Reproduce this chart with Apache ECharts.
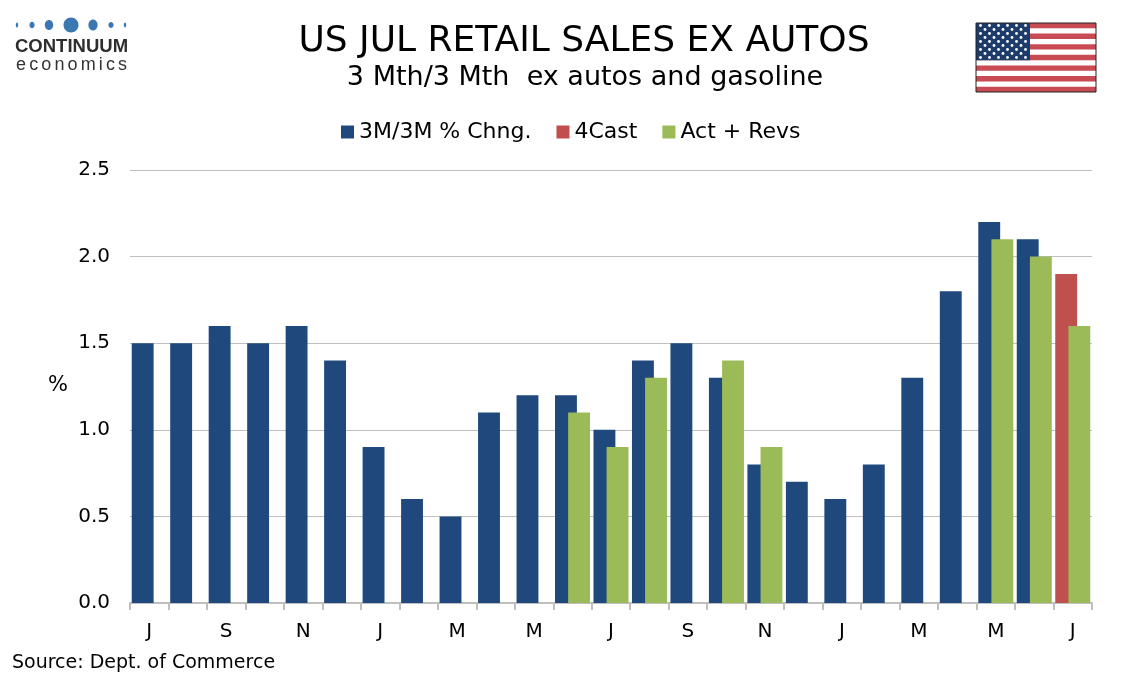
<!DOCTYPE html>
<html>
<head>
<meta charset="utf-8">
<script src="https://cdn.jsdelivr.net/npm/echarts@6/dist/echarts.min.js"></script>
<style>
  html, body { margin: 0; padding: 0; background: #fff; }
  #chart { width: 1134px; height: 680px; }
</style>
</head>
<body>
<div id="chart"></div>
<script>
// months Jul .. Jul (25 months)
var months = ['J', 'A', 'S', 'O', 'N', 'D', 'J', 'F', 'M', 'A', 'M', 'J',
              'J', 'A', 'S', 'O', 'N', 'D', 'J', 'F', 'M', 'A', 'M', 'J', 'J'];
var chng = [1.5, 1.5, 1.6, 1.5, 1.6, 1.4, 0.9, 0.6, 0.5, 1.1, 1.2, 1.2,
            1.0, 1.4, 1.5, 1.3, 0.8, 0.7, 0.6, 0.8, 1.3, 1.8, 2.2, 2.1, '-'];
var forecast = ['-', '-', '-', '-', '-', '-', '-', '-', '-', '-', '-', '-',
                '-', '-', '-', '-', '-', '-', '-', '-', '-', '-', '-', '-', 1.9];
var actRevs = ['-', '-', '-', '-', '-', '-', '-', '-', '-', '-', '-', 1.1,
               0.9, 1.3, '-', 1.4, 0.9, '-', '-', '-', '-', '-', 2.1, 2.0, 1.6];
var seriesNames = ['3M/3M % Chng.', '4Cast', 'Act + Revs'];
var yTicks = [0, 0.5, 1.0, 1.5, 2.0, 2.5];

(function () {
  var font = 'DejaVu Sans, Verdana, sans-serif';
  var blue = '#1F497D', red = '#C0504D', green = '#9BBB59', grey = '#bfbfbf';

  // logo: dots + wordmark
  var logo = [];
  var dots = [[17, 1.2, 2.5], [32, 2.6, 3.2], [49, 4.2, 5], [71, 7.5, 7.5], [93, 4.6, 5.5], [111, 2.6, 3], [125, 1.2, 2.5]];
  dots.forEach(function (d) {
    logo.push({ type: 'ellipse', shape: { cx: d[0], cy: 25, rx: d[1], ry: d[2] }, style: { fill: '#3b78b1' } });
  });
  logo.push({ type: 'text', x: 15, y: 47, style: { text: 'CONTINUUM', font: 'bold 18.5px Liberation Sans, Arial, sans-serif', fill: '#2e2e2e', verticalAlign: 'middle' } });
  // spaced-out "economics"
  var ecoFont = '18px Liberation Sans, Arial, sans-serif';
  var ctx = document.createElement('canvas').getContext('2d');
  ctx.font = ecoFont;
  var word = 'economics';
  var total = ctx.measureText(word).width;
  var spacing = (111 - total) / (word.length - 1);
  var cx = 16;
  for (var k = 0; k < word.length; k++) {
    logo.push({ type: 'text', x: cx, y: 65, style: { text: word[k], font: ecoFont, fill: '#333', verticalAlign: 'middle' } });
    cx += ctx.measureText(word[k]).width + spacing;
  }

  // flag
  var fx = 976, fy = 23, fw = 120, fh = 69, sh = fh / 13;
  var flag = [{ type: 'rect', shape: { x: fx, y: fy, width: fw, height: fh }, style: { fill: '#fff' } }];
  for (var i = 0; i < 13; i += 2) {
    flag.push({ type: 'rect', shape: { x: fx, y: fy + i * sh, width: fw, height: sh }, style: { fill: '#c84b53' } });
  }
  var cw = 54, ch = sh * 7;
  flag.push({ type: 'rect', shape: { x: fx, y: fy, width: cw, height: ch }, style: { fill: '#1d3c6b' } });
  for (var r = 0; r < 9; r++) {
    var n = r % 2 === 0 ? 6 : 5;
    for (var c = 0; c < n; c++) {
      var sx = fx + (r % 2 === 0 ? 4.5 : 9) + c * 9;
      var sy = fy + 2.5 + r * 4;
      flag.push({ type: 'circle', shape: { cx: sx, cy: sy, r: 1.4 }, style: { fill: '#fff' } });
    }
  }
  flag.push({ type: 'rect', shape: { x: fx, y: fy, width: fw, height: fh }, style: { fill: 'none', stroke: '#222', lineWidth: 1 } });

  var chart = echarts.init(document.getElementById('chart'), null, { renderer: 'canvas' });
  chart.setOption({
    animation: false,
    backgroundColor: '#fff',
    color: [blue, red, green],
    textStyle: { fontFamily: font },
    legend: {
      top: 116,
      left: 336,
      icon: 'rect',
      itemWidth: 13,
      itemHeight: 13,
      itemGap: 25,
      textStyle: { fontSize: 22, color: '#000', fontFamily: font },
      data: seriesNames
    },
    grid: { left: 130, right: 42, top: 170, bottom: 77 },
    xAxis: {
      type: 'category',
      data: months,
      axisLine: { lineStyle: { color: grey, width: 2 } },
      axisTick: { show: true, interval: 0, length: 7, lineStyle: { color: grey, width: 2 } },
      axisLabel: { interval: 1, fontSize: 20, color: '#000', margin: 19, fontFamily: font },
      splitLine: { show: false }
    },
    yAxis: {
      type: 'value',
      min: yTicks[0],
      max: yTicks[yTicks.length - 1],
      interval: 0.5,
      axisLine: { show: false },
      axisTick: { show: false },
      axisLabel: { fontSize: 20, color: '#000', margin: 20, fontFamily: font,
        formatter: function (v) { return v.toFixed(1); } },
      splitLine: { lineStyle: { color: grey, width: 1 } }
    },
    series: [
      { name: seriesNames[0], type: 'bar', stack: 'a', data: chng,
        barGap: '-40%', barCategoryGap: '9%' },
      { name: seriesNames[1], type: 'bar', stack: 'a', data: forecast },
      { name: seriesNames[2], type: 'bar', data: actRevs }
    ],
    graphic: [
      { type: 'group', children: logo },
      { type: 'group', children: flag },
      { type: 'text', x: 584, y: 42, style: { text: 'US JUL RETAIL SALES EX AUTOS', font: '36px ' + font, fill: '#000', align: 'center', verticalAlign: 'middle' } },
      { type: 'text', x: 585, y: 78, style: { text: '3 Mth/3 Mth  ex autos and gasoline', font: '27px ' + font, fill: '#000', align: 'center', verticalAlign: 'middle' } },
      { type: 'text', x: 58, y: 386, style: { text: '%', font: '21px ' + font, fill: '#000', align: 'center', verticalAlign: 'middle' } },
      { type: 'text', x: 12, y: 663, style: { text: 'Source: Dept. of Commerce', font: '19px ' + font, fill: '#000', verticalAlign: 'middle' } }
    ]
  });
})();
</script>
</body>
</html>
